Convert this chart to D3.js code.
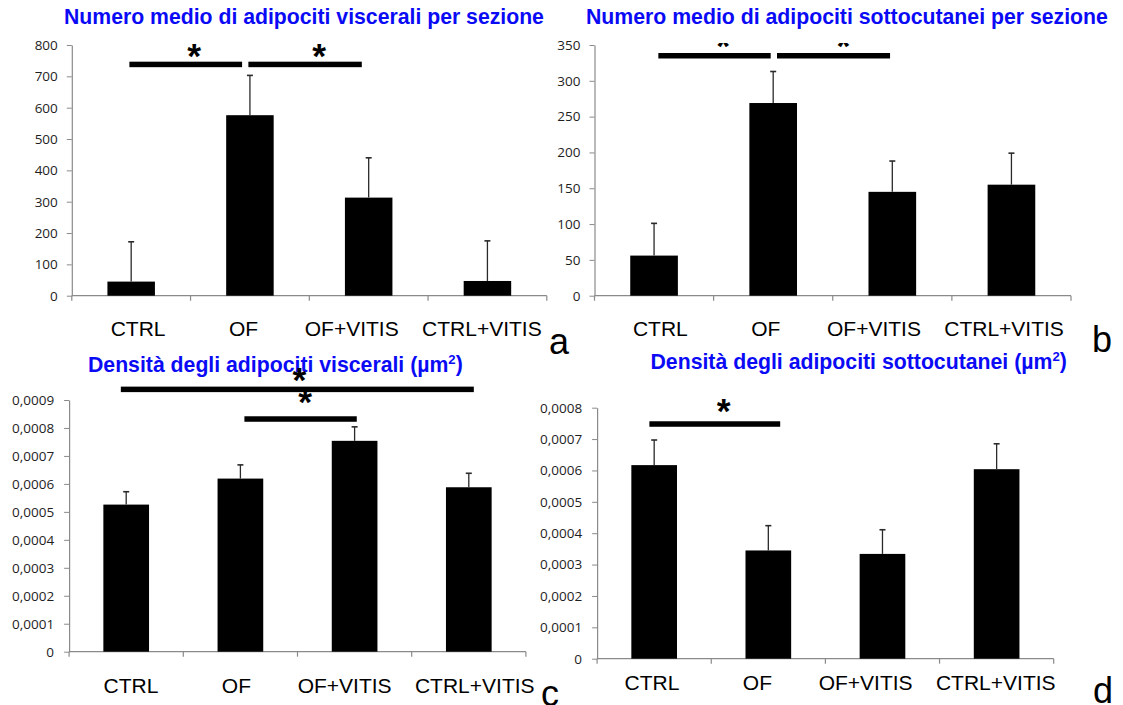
<!DOCTYPE html>
<html>
<head>
<meta charset="utf-8">
<script src="https://cdn.jsdelivr.net/npm/d3@7"></script>
<style>
  html, body { margin: 0; padding: 0; background: #fff; }
  svg { display: block; }
</style>
</head>
<body>
<svg id="chart" width="1123" height="705"></svg>
<script>
// ---- data ----
const categories = ["CTRL", "OF", "OF+VITIS", "CTRL+VITIS"];

const visceralCountMean = [45, 576, 313, 47];
const visceralCountSD   = [127, 127, 127, 128];

const subcutCountMean = [56, 269, 145, 155];
const subcutCountSD   = [45, 44, 43, 44];

const visceralDensityMean = [0.000526, 0.000619, 0.000754, 0.000588];
const visceralDensitySD   = [0.000046, 0.000049, 0.000050, 0.000050];

const subcutDensityMean = [0.000617, 0.000345, 0.000334, 0.000604];
const subcutDensitySD   = [0.000080, 0.000079, 0.000077, 0.000081];

const countTicksA   = [0, 100, 200, 300, 400, 500, 600, 700, 800];
const countTicksB   = [0, 50, 100, 150, 200, 250, 300, 350];
const densityTicksC = [0, 0.0001, 0.0002, 0.0003, 0.0004, 0.0005, 0.0006, 0.0007, 0.0008, 0.0009];
const densityTicksD = [0, 0.0001, 0.0002, 0.0003, 0.0004, 0.0005, 0.0006, 0.0007, 0.0008];

// significance brackets: span in category positions (0 = first bar centre), level in data units
const bracketsA = [{from: -0.015, to: 0.934, level: 738}, {from: 0.987, to: 1.942, level: 738}];
const starsA    = [{at: 0.53, level: 784}, {at: 1.583, level: 784}];
const bracketsB = [{from: 0.036, to: 0.979, level: 335}, {from: 1.032, to: 1.981, level: 335}];
const starsB    = [{at: 0.581, level: 356}, {at: 1.589, level: 356}];
const bracketsC = [{from: -0.047, to: 3.044, level: 0.000938}, {from: 1.035, to: 2.019, level: 0.000832}];
const starsC    = [{at: 1.517, level: 0.000993}, {at: 1.567, level: 0.000912}];
const bracketsD = [{from: -0.042, to: 1.104, level: 0.000748}];
const starsD    = [{at: 0.608, level: 0.000809}];

// ---- formatting ----
const itLocale = d3.formatLocale({decimal: ",", thousands: ".", grouping: [3], currency: ["", "€"]});
const intFmt = d3.format("d");
const densFmt = v => v === 0 ? "0" : itLocale.format(".4f")(v);

// ---- layout ----
const panels = [
  {
    title: [{t: "Numero medio di adipociti viscerali per sezione"}],
    titleX: 64, titleY: 24, titleW: 480,
    xr: [71.8, 546.8], yr: [295.7, 45], max: 800, ticks: countTicksA, fmt: intFmt, pad: 9,
    mean: visceralCountMean, sd: visceralCountSD, brackets: bracketsA, stars: starsA,
    labelX: 110.7, labelY: 336, letter: "a", letterX: 549, letterY: 354, clipTop: null
  },
  {
    title: [{t: "Numero medio di adipociti sottocutanei per sezione"}],
    titleX: 586, titleY: 24, titleW: 522,
    xr: [594.5, 1071], yr: [295.7, 45], max: 350, ticks: countTicksB, fmt: intFmt, pad: 9,
    mean: subcutCountMean, sd: subcutCountSD, brackets: bracketsB, stars: starsB,
    labelX: 632.9, labelY: 336, letter: "b", letterX: 1092, letterY: 352, clipTop: 43
  },
  {
    title: [{t: "Densità degli adipociti viscerali (µm"}, {t: "2", sup: true}, {t: ")"}],
    titleX: 88, titleY: 371.5, titleW: 375,
    xr: [69.1, 525.9], yr: [651.7, 400], max: 0.0009, ticks: densityTicksC, fmt: densFmt, pad: 10,
    mean: visceralDensityMean, sd: visceralDensitySD, brackets: bracketsC, stars: starsC,
    labelX: 103.6, labelY: 692.5, letter: "c", letterX: 541, letterY: 706, clipTop: null
  },
  {
    title: [{t: "Densità degli adipociti sottocutanei (µm"}, {t: "2", sup: true}, {t: ")"}],
    titleX: 650.5, titleY: 368.5, titleW: 416.5,
    xr: [597.1, 1053.7], yr: [658.7, 407.7], max: 0.0008, ticks: densityTicksD, fmt: densFmt, pad: 10,
    mean: subcutDensityMean, sd: subcutDensitySD, brackets: bracketsD, stars: starsD,
    labelX: 624.6, labelY: 690, letter: "d", letterX: 1093, letterY: 703, clipTop: null
  }
];

const AXIS = "#8a8a8a";
const TICK_TEXT = "#1e1e1e";
const TITLE_BLUE = "#0a0af5";
const SANS = "'Liberation Sans', Arial, sans-serif";
const TICK_FONT = "'Open Sans', sans-serif";
const labelGaps = [11, 8, 4];   // spaces between the category names

const svg = d3.select("#chart");

// glyph metrics of the bold asterisk, used to centre it on its anchor
const measureCtx = document.createElement("canvas").getContext("2d");
function starGlyph(height) {
  const probe = 100;
  measureCtx.font = `bold ${probe}px "Liberation Sans"`;
  const m = measureCtx.measureText("*");
  const h = m.actualBoundingBoxAscent + m.actualBoundingBoxDescent;
  const k = height / h;
  return {
    size: probe * k,
    dx: -(m.actualBoundingBoxRight - m.actualBoundingBoxLeft) / 2 * k,
    dy: -(m.actualBoundingBoxDescent - m.actualBoundingBoxAscent) / 2 * k
  };
}
const star = starGlyph(13.5);

panels.forEach((p, pi) => {
  const g = svg.append("g");

  const x = d3.scaleBand().domain(categories).range(p.xr).paddingInner(0.6).paddingOuter(0.3);
  const y = d3.scaleLinear().domain([0, p.max]).range(p.yr);
  const step = x.step();
  const pos = d3.scaleLinear().domain([0, 1]).range([p.xr[0] + step / 2, p.xr[0] + step * 1.5]);

  // title
  const title = g.append("text")
    .attr("x", p.titleX).attr("y", p.titleY)
    .attr("font-family", SANS).attr("font-weight", "bold")
    .attr("font-size", 20).attr("fill", TITLE_BLUE);
  p.title.forEach(part => {
    const ts = title.append("tspan").text(part.t);
    if (part.sup) ts.attr("font-size", "0.62em").attr("dy", "-0.55em");
    else if (title.selectAll("tspan").size() > 1) ts.attr("dy", "0.34em");
  });
  const fitted = 20 * p.titleW / title.node().getComputedTextLength();
  title.attr("font-size", fitted);

  // y axis
  const yAxis = g.append("g")
    .attr("transform", `translate(${p.xr[0]},0)`)
    .call(d3.axisLeft(y).tickValues(p.ticks).tickFormat(p.fmt)
      .tickSize(5).tickSizeOuter(0).tickPadding(p.pad));
  yAxis.select(".domain").attr("stroke", AXIS).attr("stroke-width", 1.2);
  yAxis.selectAll(".tick line").attr("stroke", AXIS);
  yAxis.selectAll(".tick text")
    .attr("fill", TICK_TEXT).attr("font-family", TICK_FONT).attr("font-size", 13.5);

  // x axis line with tick marks on the category boundaries
  const y0 = y(0);
  g.append("line")
    .attr("x1", p.xr[0]).attr("x2", p.xr[1]).attr("y1", y0).attr("y2", y0)
    .attr("stroke", AXIS).attr("stroke-width", 1.2);
  const bounds = d3.range(categories.length + 1).map(i => p.xr[0] + i * step);
  g.selectAll(".xtick").data(bounds).join("line")
    .attr("x1", d => d).attr("x2", d => d)
    .attr("y1", y0).attr("y2", y0 + 5)
    .attr("stroke", AXIS).attr("stroke-width", 1.2);

  // bars
  g.selectAll(".bar").data(categories).join("rect")
    .attr("x", d => x(d)).attr("width", x.bandwidth())
    .attr("y", (d, i) => y(p.mean[i]))
    .attr("height", (d, i) => y0 - y(p.mean[i]))
    .attr("fill", "#000");

  // error bars (upper whisker only)
  const capHalf = 3;
  categories.forEach((c, i) => {
    const cx = x(c) + x.bandwidth() / 2;
    const top = y(p.mean[i] + p.sd[i]);
    g.append("line").attr("x1", cx).attr("x2", cx)
      .attr("y1", y(p.mean[i])).attr("y2", top)
      .attr("stroke", "#2a2a2a").attr("stroke-width", 1.3);
    g.append("line").attr("x1", cx - capHalf).attr("x2", cx + capHalf)
      .attr("y1", top).attr("y2", top)
      .attr("stroke", "#2a2a2a").attr("stroke-width", 1.6);
  });

  // asterisks
  let starLayer = g.append("g");
  if (p.clipTop !== null) {
    const clipId = "clip" + pi;
    svg.append("clipPath").attr("id", clipId)
      .append("rect").attr("x", p.xr[0]).attr("y", p.clipTop)
      .attr("width", p.xr[1] - p.xr[0]).attr("height", y0 - p.clipTop);
    starLayer.attr("clip-path", `url(#${clipId})`);
  }
  starLayer.selectAll("text").data(p.stars).join("text")
    .attr("x", d => pos(d.at) + star.dx)
    .attr("y", d => y(d.level) + star.dy)
    .attr("font-family", SANS).attr("font-weight", "bold")
    .attr("font-size", star.size).attr("fill", "#000")
    .text("*");

  // significance brackets
  g.selectAll(".sig").data(p.brackets).join("rect")
    .attr("x", d => pos(d.from))
    .attr("width", d => pos(d.to) - pos(d.from))
    .attr("y", d => y(d.level) - 2.75)
    .attr("height", 5.5)
    .attr("fill", "#000");

  // category names
  const labelText = categories.map((c, i) => c + (i < labelGaps.length ? " ".repeat(labelGaps[i]) : "")).join("");
  g.append("text")
    .attr("x", p.labelX).attr("y", p.labelY)
    .attr("xml:space", "preserve").style("white-space", "pre")
    .attr("font-family", SANS).attr("font-size", 21).attr("fill", "#000")
    .text(labelText);

  // panel letter
  g.append("text")
    .attr("x", p.letterX).attr("y", p.letterY)
    .attr("font-family", SANS).attr("font-size", 36).attr("fill", "#000")
    .text(p.letter);
});
</script>
</body>
</html>
